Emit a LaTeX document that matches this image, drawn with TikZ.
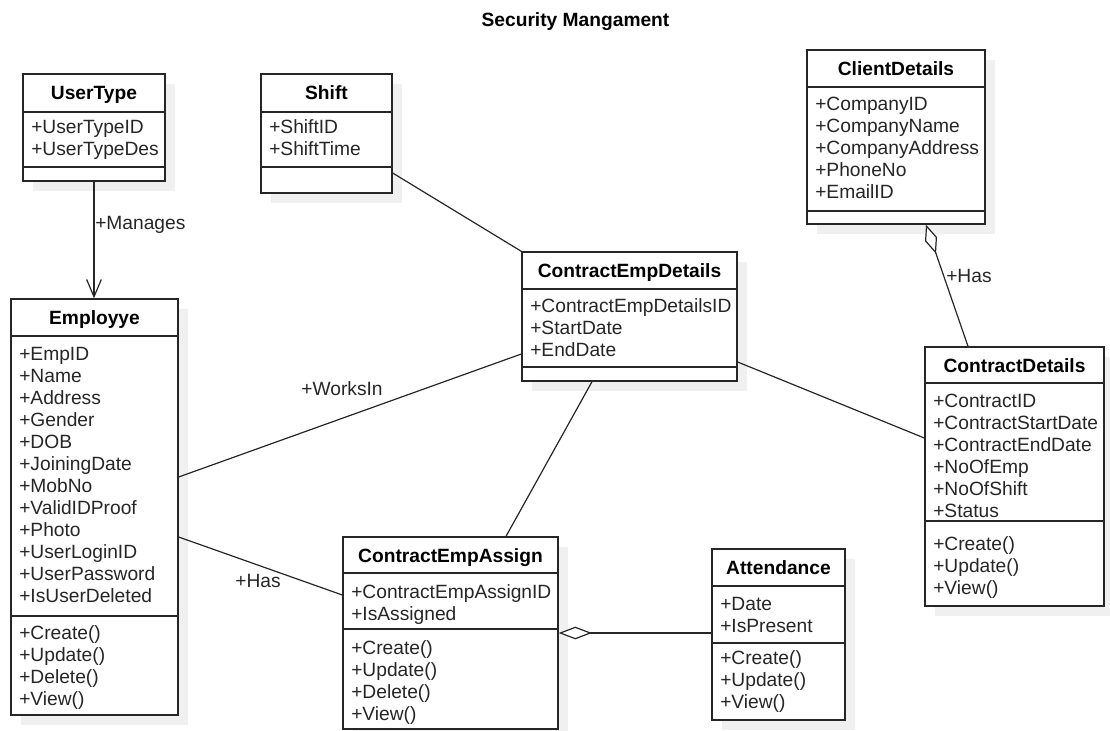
\documentclass[tikz,border=0pt]{standalone}
\usepackage{fontspec}
\setmainfont{Liberation Sans}
\usetikzlibrary{arrows.meta,fit}

\definecolor{boxshadow}{gray}{0.94}
\definecolor{ink}{gray}{0.15}

\tikzset{
  classbox/.style={draw=ink, line width=1pt, fill=white, inner sep=0pt},
  divider/.style={draw=ink, line width=1pt},
  classtitle/.style={font=\bfseries\fontsize{14.4}{16}\selectfont, anchor=base, inner sep=0pt, text=black},
  member/.style={font=\fontsize{14.4}{16}\selectfont, anchor=base west, inner sep=0pt, text=ink},
  link/.style={draw=ink, line width=0.9pt},
  linklabel/.style={font=\fontsize{14.4}{16}\selectfont, inner sep=0pt, text=ink},
  openhead/.style={-{Straight Barb[length=13pt,width=11pt,line width=0.9pt]}},
  aggregation/.style={-{Diamond[open,fill=white,length=#1,width=9.5pt,line width=0.9pt]}},
}

% class box: name, left, top, right, bottom, header divider, attribute divider, title
\newcommand{\umlclass}[8]{%
  \fill[boxshadow] ({#2+10},{#3+10}) rectangle ({#4+10},{#5+10});
  \node[classbox, fit={(#2,#3) (#4,#5)}] (#1) {};
  \draw[divider] (#2,#6) -- (#4,#6);
  \draw[divider] (#2,#7) -- (#4,#7);
  \node[classtitle] at ({(#2+#4)/2},{(#3+#6)/2+7}) {#8};
}
% member rows: left edge of box, centre of first row, list of rows
\newcommand{\umlmembers}[3]{%
  \foreach \mtext [count=\i from 0] in {#3}
    \node[member] at ({#1+8},{#2+7+22*\i}) {\mtext};
}

\begin{document}
\begin{tikzpicture}[x=0.75pt,y=-0.75pt]
\useasboundingbox (0,0) rectangle (1110,731);

\node[classtitle] at (575.5,27) {Security Mangament};

% UserType
\umlclass{usertype}{23}{74}{165}{181}{112}{167}{UserType}
\umlmembers{23}{127}{+UserTypeID,+UserTypeDes}

% Shift
\umlclass{shift}{261}{74}{392}{193}{112}{167}{Shift}
\umlmembers{261}{127}{+ShiftID,+ShiftTime}

% ClientDetails
\umlclass{client}{807}{50}{985}{224}{87}{211}{ClientDetails}
\umlmembers{807}{104}{+CompanyID,+CompanyName,+CompanyAddress,+PhoneNo,+EmailID}

% ContractEmpDetails
\umlclass{ced}{522}{252}{737}{381}{289}{367}{ContractEmpDetails}
\umlmembers{522}{305}{+ContractEmpDetailsID,+StartDate,+EndDate}

% Employyee
\umlclass{emp}{11}{299}{178}{715}{336}{616}{Employye}
\umlmembers{11}{353}{+EmpID,+Name,+Address,+Gender,+DOB,+JoiningDate,+MobNo,+ValidIDProof,+Photo,+UserLoginID,+UserPassword,+IsUserDeleted}
\umlmembers{11}{632}{+Create(),+Update(),+Delete(),+View()}

% ContractDetails
\umlclass{cd}{925}{347}{1104}{606}{383}{521}{ContractDetails}
\umlmembers{925}{400}{+ContractID,+ContractStartDate,+ContractEndDate,+NoOfEmp,+NoOfShift,+Status}
\umlmembers{925}{543}{+Create(),+Update(),+View()}

% ContractEmpAssign
\umlclass{cea}{343}{537}{558}{729}{573}{629}{ContractEmpAssign}
\umlmembers{343}{591}{+ContractEmpAssignID,+IsAssigned}
\umlmembers{343}{647}{+Create(),+Update(),+Delete(),+View()}

% Attendance
\umlclass{att}{712}{549}{845}{720}{586}{643}{Attendance}
\umlmembers{712}{603}{+Date,+IsPresent}
\umlmembers{712}{657}{+Create(),+Update(),+View()}

% associations
\draw[link, openhead] (usertype.south) -- (usertype.south |- emp.north);
\node[linklabel, anchor=west] at (95,225) {+Manages};

\draw[link] (shift.east |- 0,173) -- (ced.north west);

\draw[link] (emp.east |- 0,477) -- (ced.west |- 0,354);
\node[linklabel] at (342,389) {+WorksIn};

\draw[link] (emp.east |- 0,537) -- (cea.west |- 0,595);
\node[linklabel] at (258,581) {+Has};

\draw[link] (592,0 |- ced.south) -- (506,0 |- cea.north);

\draw[link] (ced.east |- 0,362) -- (cd.west |- 0,438);

\draw[link, aggregation=23pt] (968,0 |- cd.north) -- (926,0 |- client.south);
\node[linklabel, anchor=west] at (946,276) {+Has};

\draw[link, aggregation=25pt] (att.west |- 0,633) -- (cea.east |- 0,633);
\end{tikzpicture}
\end{document}
